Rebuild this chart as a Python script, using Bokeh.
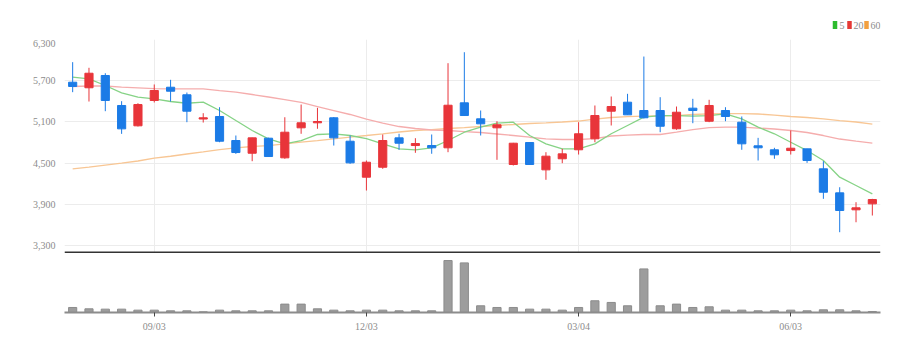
from bokeh.plotting import figure
from bokeh.models import (ColumnDataSource, FixedTicker, NumeralTickFormatter, Span,
                          Range1d, Grid)
from bokeh.core.properties import value
from bokeh.layouts import column
from bokeh.embed import file_html
from bokeh.resources import INLINE

# ---------------- data ----------------
opens = [5678, 5597, 5776, 5339, 5043, 5412, 5605, 5495, 5142, 5179,
         4829, 4644, 4863, 4577, 5014, 5087, 5160, 4819, 4295, 4440,
         4868, 4756, 4756, 4723, 5378, 5145, 5014, 4480, 4800, 4402,
         4563, 4694, 4854, 5256, 5387, 5266, 5266, 5000, 5300, 5110,
         5266, 5096, 4752, 4694, 4683, 4708, 4417, 4067, 3820, 3907]
highs = [5970, 5888, 5809, 5402, 5372, 5645, 5713, 5528, 5227, 5314,
         4902, 4870, 4870, 5168, 5353, 5305, 5170, 4902, 4538, 4917,
         4927, 4863, 4917, 5955, 6115, 5266, 5110, 4795, 4800, 4659,
         4708, 5096, 5339, 5470, 5509, 6052, 5460, 5324, 5436, 5422,
         5314, 5179, 4868, 4723, 4975, 4708, 4528, 4149, 3931, 3980]
lows = [5533, 5397, 5256, 4926, 5033, 5383, 5397, 5096, 5091, 4804,
        4635, 4528, 4590, 4563, 4927, 5000, 4756, 4490, 4101, 4417,
        4694, 4650, 4636, 4659, 5190, 4902, 4548, 4465, 4480, 4257,
        4499, 4625, 4804, 5048, 5203, 5150, 4950, 4985, 5081, 5096,
        5110, 4694, 4538, 4563, 4625, 4504, 3980, 3494, 3639, 3737]
closes = [5616, 5809, 5412, 4999, 5353, 5557, 5547, 5256, 5160, 4819,
          4654, 4868, 4596, 4950, 5087, 5106, 4868, 4504, 4513, 4829,
          4790, 4785, 4723, 5343, 5193, 5072, 5058, 4790, 4480, 4601,
          4635, 4927, 5193, 5324, 5203, 5160, 5037, 5241, 5266, 5339,
          5179, 4781, 4723, 4621, 4717, 4538, 4076, 3810, 3849, 3970]
ma5 = [5751, 5728, 5630, 5524, 5460, 5436, 5397, 5372, 5387, 5266,
       5120, 4975, 4854, 4781, 4829, 4917, 4927, 4902, 4858, 4781,
       4708, 4694, 4723, 4829, 4950, 5023, 5081, 5096, 4902, 4781,
       4708, 4708, 4781, 4927, 5048, 5169, 5193, 5193, 5183, 5193,
       5218, 5145, 5023, 4927, 4804, 4683, 4538, 4295, 4174, 4052]
ma20 = [5616, 5623, 5623, 5608, 5597, 5586, 5582, 5582, 5582, 5557,
        5533, 5499, 5463, 5426, 5383, 5324, 5266, 5208, 5142, 5084,
        5033, 5004, 4982, 4975, 4960, 4946, 4924, 4902, 4877, 4854,
        4844, 4844, 4858, 4895, 4909, 4917, 4917, 4950, 4989, 5018,
        5023, 5023, 5011, 4997, 4975, 4946, 4902, 4851, 4819, 4790]
ma60 = [4417, 4443, 4472, 4501, 4531, 4574, 4600, 4633, 4665, 4698,
        4723, 4742, 4756, 4781, 4807, 4829, 4854, 4880, 4902, 4927,
        4953, 4975, 4989, 5004, 5018, 5033, 5048, 5062, 5077, 5087,
        5099, 5113, 5142, 5164, 5176, 5183, 5189, 5193, 5208, 5218,
        5222, 5222, 5215, 5200, 5179, 5164, 5145, 5120, 5099, 5069]
volumes = [15000, 11000, 10000, 10000, 7000, 7000, 5000, 5000, 2000, 7000,
           5000, 5000, 5000, 25000, 25000, 11000, 7000, 5000, 7000, 7000,
           5000, 5000, 5000, 155000, 148000, 20000, 15000, 15000, 10000, 10000,
           7000, 15000, 35000, 30000, 20000, 130000, 20000, 25000, 15000, 17000,
           7000, 7000, 5000, 5000, 7000, 5000, 8000, 8000, 5000, 3000]
tick_index = [5, 18, 31, 44]
tick_labels = ["09/03", "12/03", "03/04", "06/03"]
price_ticks = [3300, 3900, 4500, 5100, 5700, 6300]
legend_labels = ["5", "20", "60"]

# ---------------- styles ----------------
UP = "#e8353a"
DOWN = "#1b7be6"
FONT = "Liberation Sans Narrow"
LABEL_COLOR = "#8c8c8c"
GRID_COLOR = "#ececec"
LEG_COLORS = ["#2dbb2d", "#e53935", "#f2a040"]
LEG_SWATCH_X = [834.5, 849, 866]   # page-pixel layout of the key
LEG_TEXT_X = [839, 853, 870]

idx = list(range(len(opens)))
src = ColumnDataSource(dict(
    x=idx, open=opens, high=highs, low=lows, close=closes,
    top=[max(o, c) for o, c in zip(opens, closes)],
    bottom=[min(o, c) for o, c in zip(opens, closes)],
    color=[UP if c >= o else DOWN for o, c in zip(opens, closes)],
))

xr = Range1d(-0.5, 49.5)

# ---------------- legend strip (frame aligned to 64..880 px by the column) ----------------
p0 = figure(width=923, height=39, x_range=Range1d(64, 880), y_range=Range1d(39, 0),
            output_backend="svg", toolbar_location=None,
            x_axis_location=None, y_axis_location=None,
            min_border_left=64, min_border_right=43, min_border_top=0, min_border_bottom=0)
p0.outline_line_color = None
p0.grid.visible = False
p0.rect(x=LEG_SWATCH_X, y=24.5, width=4.5, height=8, fill_color=LEG_COLORS,
        line_color=None)
p0.text(x=LEG_TEXT_X, y=25, text=legend_labels, text_baseline="middle", text_align="left",
        text_font=value(FONT), text_font_size="10px", text_color=LABEL_COLOR)

# ---------------- price panel ----------------
p1 = figure(width=923, height=214, x_range=xr, y_range=Range1d(3184, 6300),
            output_backend="svg", toolbar_location=None, x_axis_location=None,
            min_border_left=64, min_border_right=43, min_border_top=0, min_border_bottom=0)
p1.outline_line_color = None
p1.grid.visible = False
p1.add_layout(Grid(dimension=1, ticker=FixedTicker(ticks=price_ticks),
                   grid_line_color=GRID_COLOR, grid_line_width=1))
p1.add_layout(Grid(dimension=0, ticker=FixedTicker(ticks=tick_index),
                   grid_line_color=GRID_COLOR, grid_line_width=1))

ya = p1.yaxis[0]
ya.ticker = FixedTicker(ticks=price_ticks)
ya.formatter = NumeralTickFormatter(format="0,0")
ya.axis_line_color = None
ya.major_tick_line_color = None
ya.minor_tick_line_color = None
ya.major_label_standoff = 3
ya.major_label_text_font_size = "10px"
ya.major_label_text_color = LABEL_COLOR
ya.major_label_text_font = FONT

p1.line(idx, ma60, line_color="#f8c694", line_width=1.3)
p1.line(idx, ma20, line_color="#f5adad", line_width=1.3)
p1.line(idx, ma5, line_color="#86d386", line_width=1.3)

p1.segment(x0="x", y0="high", x1="x", y1="low", line_color="color", line_width=1, source=src)
p1.vbar(x="x", width=0.5, top="top", bottom="bottom", fill_color="color",
        line_color="color", line_width=1, source=src)

p1.add_layout(Span(location=3198, dimension="width", line_color="#333333", line_width=2))

# ---------------- volume panel ----------------
p2 = figure(width=923, height=98, x_range=xr, y_range=Range1d(0, 176000),
            output_backend="svg", toolbar_location=None, y_axis_location=None,
            min_border_left=64, min_border_right=43, min_border_top=0, min_border_bottom=39)
p2.outline_line_color = None
p2.grid.visible = False
p2.vbar(x=idx, top=volumes, width=0.5, fill_color="#9d9d9d", line_color="#8c8c8c")
xa = p2.xaxis[0]
xa.ticker = FixedTicker(ticks=tick_index)
xa.major_label_overrides = {i: l for i, l in zip(tick_index, tick_labels)}
xa.axis_line_color = "#8c8c8c"
xa.axis_line_width = 2
xa.major_tick_line_color = "#444444"
xa.major_tick_out = 4
xa.major_tick_in = 0
xa.minor_tick_line_color = None
xa.major_label_standoff = 4
xa.major_label_text_font_size = "10px"
xa.major_label_text_color = LABEL_COLOR
xa.major_label_text_font = FONT

layout = column(p0, p1, p2, spacing=0)
open("out.html", "w").write(file_html(layout, INLINE))
